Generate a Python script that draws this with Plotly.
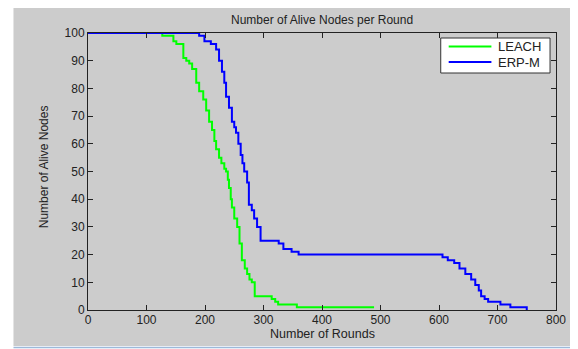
import plotly.graph_objects as go

# ---- data ----
leach_rounds = [0, 127, 146, 151, 163, 168, 173, 178, 185, 190, 197, 202, 207, 212, 216, 219, 224,
                228, 233, 236, 239, 241, 244, 246, 250, 255, 259, 263, 268, 272, 276, 280, 285,
                314, 320, 325, 357, 489]
leach_alive = [100, 99, 97, 96, 91, 90, 89, 87, 82, 79, 76, 72, 68, 65, 61, 58, 55,
               53, 51, 50, 47, 44, 40, 37, 33, 30, 24, 18, 15, 13, 11, 10, 5,
               4, 3, 2, 1, 1]

erp_rounds = [0, 190, 199, 210, 219, 224, 229, 233, 236, 241, 246, 250, 253, 257, 261, 264, 267,
              272, 275, 280, 284, 289, 295, 326, 334, 348, 360, 606, 615, 626, 635, 645, 655,
              662, 668, 672, 678, 684, 705, 722, 750]
erp_alive = [100, 99, 97, 96, 94, 90, 86, 82, 77, 73, 68, 66, 64, 60, 56, 53, 50,
             46, 38, 36, 33, 30, 25, 24, 22, 21, 20, 19, 18, 17, 15, 13, 11,
             9, 7, 5, 4, 3, 2, 1, 0]

series_names = ["LEACH", "ERP-M"]
series_colors = ["#00FF00", "#0000FF"]

x_ticks = [0, 100, 200, 300, 400, 500, 600, 700, 800]
y_ticks = [0, 10, 20, 30, 40, 50, 60, 70, 80, 90, 100]

FONT = "Liberation Sans, Arial, sans-serif"
TXT = "#222222"

fig = go.Figure()
for xs, ys, nm, col in zip([leach_rounds, erp_rounds], [leach_alive, erp_alive],
                           series_names, series_colors):
    fig.add_trace(go.Scatter(x=xs, y=ys, mode="lines", name=nm, showlegend=False,
                             line=dict(color=col, width=2, shape="hv")))

OFF = 8  # page body margin
W, H = 578 - OFF, 349 - OFF
L, T = 88 - OFF, 33 - OFF
R = W - (559 - OFF)
B = H - (310 - OFF)
pw, ph = W - L - R, H - T - B


def px(x):  # page pixel x -> paper
    return (x - OFF - L) / pw


def py(y):  # page pixel y -> paper
    return (H - B - (y - OFF)) / ph


shapes = [
    dict(type="rect", xref="paper", yref="paper", layer="below",
         x0=px(13), x1=px(580), y0=py(346), y1=py(6),
         fillcolor="#CCCCCC", line=dict(width=0)),
    dict(type="line", xref="paper", yref="paper", layer="below",
         x0=px(13), x1=px(580), y0=py(347.5), y1=py(347.5),
         line=dict(color="#9DB9D9", width=1.5)),
    # legend box
    dict(type="rect", xref="paper", yref="paper", layer="above",
         x0=px(443), x1=px(553), y0=py(73), y1=py(38),
         fillcolor="white", line=dict(color="#333333", width=1)),
]
annotations = [
    dict(text="Number of Alive Nodes per Round", xref="paper", yref="paper",
         x=0.5, y=py(20), xanchor="center", yanchor="middle", showarrow=False,
         font=dict(family=FONT, size=12, color=TXT)),
    dict(text="Number of Rounds", xref="paper", yref="paper",
         x=0.5, y=py(334), xanchor="center", yanchor="middle", showarrow=False,
         font=dict(family=FONT, size=12.5, color=TXT)),
    dict(text="Number of Alive Nodes", xref="paper", yref="paper",
         x=px(44), y=py(167), xanchor="center", yanchor="middle", showarrow=False,
         textangle=-90,
         font=dict(family="Liberation Sans Narrow, Arial Narrow, sans-serif", size=12,
                   color=TXT)),
]
for i, (nm, col) in enumerate(zip(series_names, series_colors)):
    yy = 46.5 + i * 15.5
    shapes.append(dict(type="line", xref="paper", yref="paper", layer="above",
                       x0=px(451), x1=px(494), y0=py(yy), y1=py(yy),
                       line=dict(color=col, width=2)))
    annotations.append(dict(text=nm, xref="paper", yref="paper", x=px(499), y=py(yy),
                            xanchor="left", yanchor="middle", showarrow=False,
                            font=dict(family=FONT, size=13, color=TXT)))

fig.update_layout(
    width=W, height=H,
    margin=dict(l=L, r=R, t=T, b=B, pad=0),
    paper_bgcolor="white",
    plot_bgcolor="white",
    font=dict(family=FONT, size=12, color=TXT),
    showlegend=False,
    shapes=shapes,
    annotations=annotations,
)

fig.update_xaxes(range=[0, 800], tickvals=x_ticks, ticktext=[str(v) for v in x_ticks],
                 showgrid=False, zeroline=False, showline=True, linecolor=TXT,
                 linewidth=1, mirror="ticks", ticks="inside", ticklen=5, tickcolor=TXT,
                 ticklabelstandoff=-1,
                 tickfont=dict(family=FONT, size=12, color=TXT))
fig.update_yaxes(range=[0, 100], tickvals=y_ticks, ticktext=[str(v) for v in y_ticks],
                 showgrid=False, zeroline=False, showline=True, linecolor=TXT,
                 linewidth=1, mirror="ticks", ticks="inside", ticklen=5, tickcolor=TXT,
                 tickfont=dict(family=FONT, size=12, color=TXT))

fig.write_html("out.html")
